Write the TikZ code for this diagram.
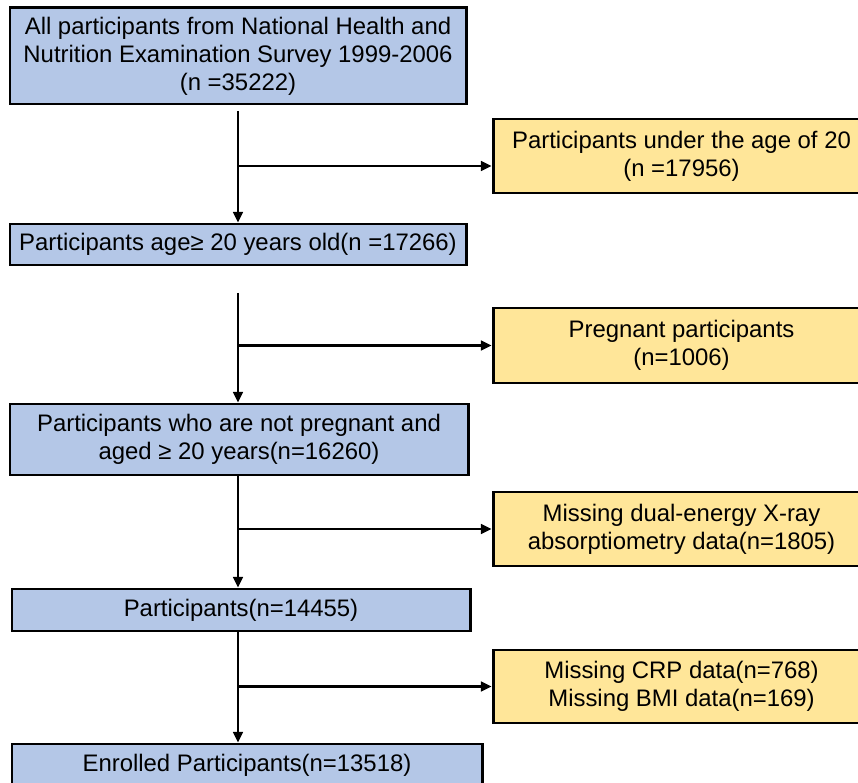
\documentclass[tikz,border=0pt]{standalone}
\usepackage{fontspec}
\setmainfont{Liberation Sans}
\usetikzlibrary{arrows.meta,positioning}
\definecolor{inclblue}{HTML}{B4C7E7}
\definecolor{exclyellow}{HTML}{FFE699}
\tikzset{
  inclbox/.style={draw, line width=1.7pt, fill=inclblue, align=center, inner sep=0pt,
    font=\fontsize{13.6}{15.9}\selectfont},
  exclbox/.style={draw, line width=1.7pt, fill=exclyellow, align=center, inner sep=0pt,
    font=\fontsize{13.6}{15.9}\selectfont},
  flow/.style={line width=1.3pt, -{Triangle[length=6pt,width=5.5pt]}}
}
\begin{document}
\begin{tikzpicture}[x=0.02cm, y=-0.02cm]
    \useasboundingbox (0,0) rectangle (858,783);
    \node[inclbox, minimum width=456*0.02cm, minimum height=96*0.02cm] (all) at (238,56)
      {All participants from National Health and\\Nutrition Examination Survey 1999-2006\\(n =35222)};
    \node[inclbox, minimum width=456*0.02cm, minimum height=41*0.02cm] (adult) at (238,244.5)
      {Participants age≥ 20 years old(n =17266)};
    \node[inclbox, minimum width=458*0.02cm, minimum height=71*0.02cm] (nonpreg) at (239,439.5)
      {Participants who are not pregnant and\\aged ≥ 20 years(n=16260)};
    \node[inclbox, minimum width=458*0.02cm, minimum height=42*0.02cm] (dxa) at (241,610)
      {Participants(n=14455)};
    \node[inclbox, minimum width=470*0.02cm, minimum height=42*0.02cm] (final) at (247,765)
      {Enrolled Participants(n=13518)};
    % exclusions on the right
    \node[exclbox, minimum width=377*0.02cm, minimum height=74*0.02cm] (young) at (681.5,156)
      {Participants under the age of 20\\(n =17956)};
    \node[exclbox, minimum width=377*0.02cm, minimum height=75*0.02cm] (preg) at (681.5,345.5)
      {Pregnant participants\\(n=1006)};
    \node[exclbox, minimum width=377*0.02cm, minimum height=74*0.02cm] (nodxa) at (681.5,529)
      {Missing dual-energy X-ray\\absorptiometry data(n=1805)};
    \node[exclbox, minimum width=377*0.02cm, minimum height=73*0.02cm] (nocrp) at (681.5,686.5)
      {Missing CRP data(n=768)\\Missing BMI data(n=169)};
    \coordinate (j1) at (238,166);
    \coordinate (s2) at (238,293);
    \draw[flow] ([yshift=-3pt]all.south) -- (adult.north);
    \draw[flow] (j1) -- (j1 -| young.west);
    \draw[flow] (s2) -- (s2 |- nonpreg.north);
    \draw[flow] (s2 |- preg.west) -- (preg.west);
    \draw[flow] (s2 |- nonpreg.south) -- (s2 |- dxa.north);
    \draw[flow] (s2 |- nodxa.west) -- (nodxa.west);
    \draw[flow] (s2 |- dxa.south) -- (s2 |- final.north);
    \draw[flow] (s2 |- nocrp.west) -- (nocrp.west);
\end{tikzpicture}
\end{document}
